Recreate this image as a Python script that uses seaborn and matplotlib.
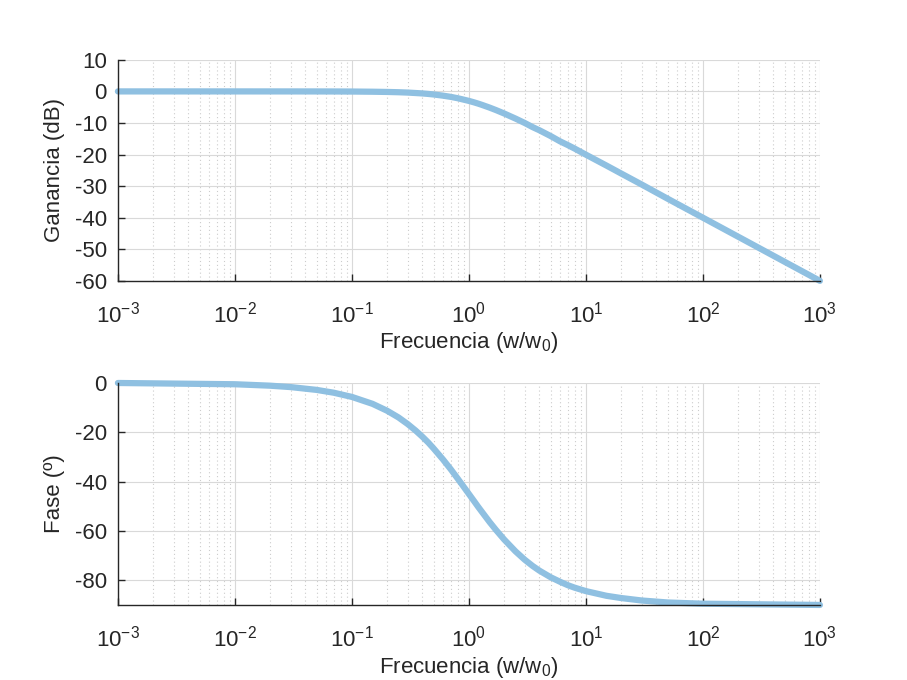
import matplotlib
matplotlib.use("Agg")
import matplotlib.pyplot as plt
import seaborn as sns
import numpy as np
from matplotlib.ticker import LogLocator, FixedLocator, NullFormatter, LogFormatterSciNotation

sns.set_style("white")
plt.rcParams['font.family'] = ['Liberation Sans', 'DejaVu Sans']
plt.rcParams['mathtext.fontset'] = 'custom'
plt.rcParams['mathtext.rm'] = 'Liberation Sans'
plt.rcParams['mathtext.it'] = 'Liberation Sans:italic'
plt.rcParams['axes.unicode_minus'] = False

# Frequencies (w/w0)
freq = [1e-3, 1e-2, 0.02, 0.03, 0.05, 0.07, 0.1, 0.15, 0.2, 0.25, 0.3, 0.35, 0.4, 0.45, 0.5,
        0.6, 0.7, 0.8, 0.9, 1.0, 1.1, 1.2, 1.3, 1.5, 1.7, 2.0, 2.5, 3.0, 3.5, 4.0, 5.0,
        6.0, 7.0, 8.0, 10.0, 15.0, 20.0, 30.0, 50.0, 100.0, 1000.0]
# Gain in dB
gain_db = [0.0, 0.0, -0.002, -0.004, -0.01, -0.02, -0.04, -0.1, -0.17, -0.26, -0.37, -0.51, -0.64, -0.8, -0.97,
           -1.34, -1.73, -2.15, -2.6, -3.01, -3.44, -3.87, -4.3, -5.12, -5.9, -6.99, -8.6, -10.0, -11.3, -12.3, -14.15,
           -15.8, -17.0, -18.1, -20.04, -23.5, -26.0, -29.5, -34.0, -40.0, -60.0]
# Phase in degrees
phase_deg = [-0.06, -0.57, -1.15, -1.72, -2.86, -4.0, -5.7, -8.5, -11.3, -14.0, -16.7, -19.3, -21.8, -24.2, -26.6,
             -31.0, -35.0, -38.7, -42.0, -45.0, -47.7, -50.2, -52.4, -56.3, -59.5, -63.4, -68.2, -71.6, -74.1, -76.0, -78.7,
             -80.5, -81.9, -82.9, -84.3, -86.2, -87.1, -88.1, -88.9, -89.4, -89.9]

x_ticks = [1e-3, 1e-2, 1e-1, 1e0, 1e1, 1e2, 1e3]
gain_ticks = [10, 0, -10, -20, -30, -40, -50, -60]
phase_ticks = [0, -20, -40, -60, -80]

line_color = '#8fc0e1'
fs = 16

fig = plt.figure(figsize=(9.07, 6.8), dpi=100)
ax1 = fig.add_axes([0.130, 0.587, 0.774, 0.325])
ax2 = fig.add_axes([0.130, 0.110, 0.774, 0.327])

def style(ax, yticks, ylim, ylabel):
    ax.set_xscale('log')
    ax.set_xlim(1e-3, 1e3)
    ax.set_ylim(*ylim)
    ax.yaxis.set_major_locator(FixedLocator(yticks))
    ax.xaxis.set_major_locator(FixedLocator(x_ticks))
    ax.xaxis.set_major_formatter(LogFormatterSciNotation())
    ax.xaxis.set_minor_locator(LogLocator(base=10, subs=np.arange(2, 10), numticks=100))
    ax.xaxis.set_minor_formatter(NullFormatter())
    ax.grid(True, which='major', axis='both', color='#d9d9d9', linewidth=0.8, linestyle='-')
    ax.grid(True, which='minor', axis='x', color='#cccccc', linewidth=0.8, linestyle=(0, (1, 2.5)))
    ax.set_axisbelow(True)
    for s in ['top', 'right']:
        ax.spines[s].set_visible(False)
    for s in ['left', 'bottom']:
        ax.spines[s].set_color('#262626')
        ax.spines[s].set_linewidth(1.0)
    ax.tick_params(axis='both', which='major', direction='in', length=5, width=1,
                   color='#262626', labelsize=fs, labelcolor='#262626', left=True, bottom=True)
    ax.tick_params(axis='both', which='minor', length=0)
    ax.tick_params(axis='x', pad=15)
    ax.tick_params(axis='y', pad=8)
    ax.set_xlabel('Frecuencia (w/w$_0$)', fontsize=fs, color='#262626', labelpad=2)
    ax.set_ylabel(ylabel, fontsize=fs, color='#262626', labelpad=7)

sns.lineplot(x=freq, y=gain_db, ax=ax1, color=line_color, linewidth=4.5, clip_on=False)
style(ax1, gain_ticks, (-60, 10), 'Ganancia (dB)')

sns.lineplot(x=freq, y=phase_deg, ax=ax2, color=line_color, linewidth=4.5, clip_on=False)
style(ax2, phase_ticks, (-90, 0), 'Fase (º)')

fig.savefig('out.png', dpi=100)
